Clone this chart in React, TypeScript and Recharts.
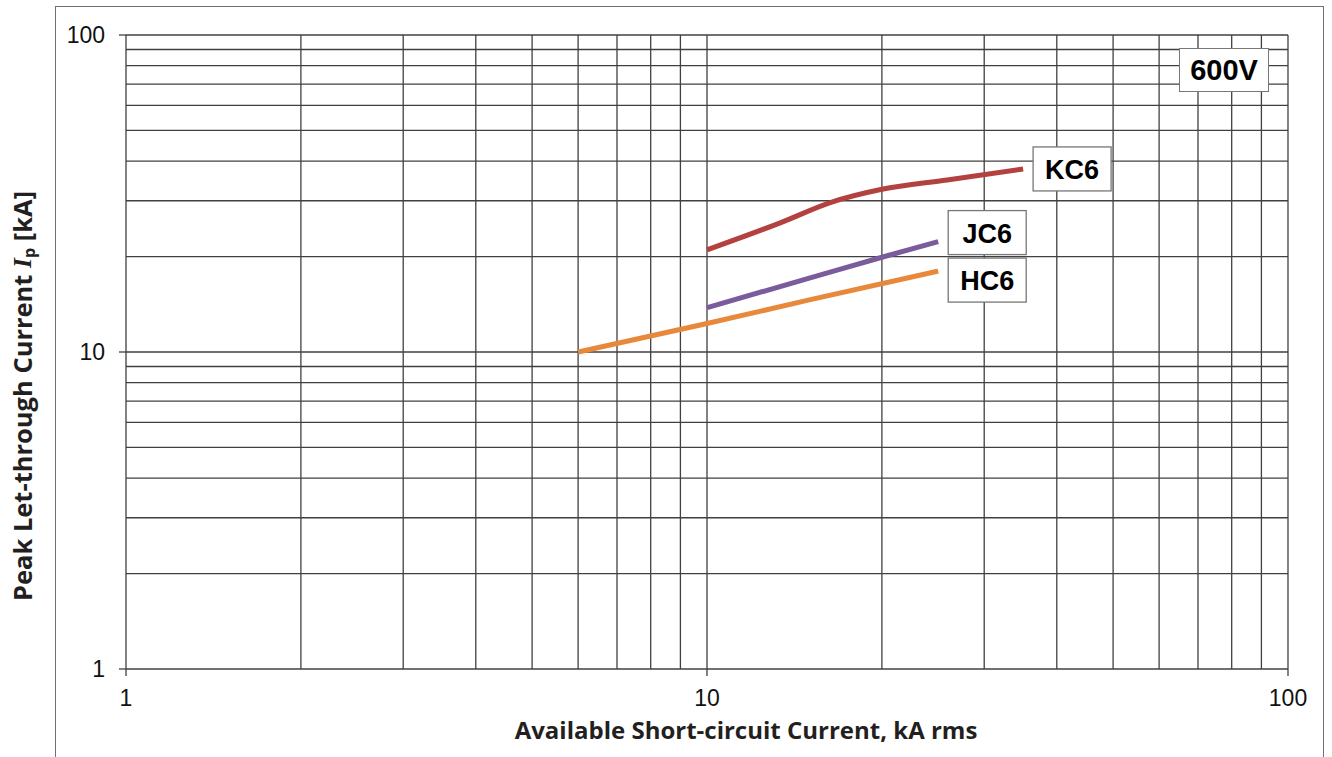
import React from "react";
import { LineChart, Line, XAxis, YAxis, CartesianGrid } from "recharts";

// ---- data ----
const hcX = [6, 10, 15, 25];
const hcY = [10, 12.3, 14.6, 18.0];
const jcX = [10, 15, 20, 25];
const jcY = [13.8, 17.1, 19.9, 22.3];
const kcX = [10, 13.4, 16.3, 20, 25.9, 35];
const kcY = [21.0, 25.6, 29.6, 32.6, 34.9, 37.8];

const seriesNames = ["HC6", "JC6", "KC6"];
const seriesColors = ["#E8883A", "#7A5B9C", "#B3413F"];

const xTicks = [1, 2, 3, 4, 5, 6, 7, 8, 9, 10, 20, 30, 40, 50, 60, 70, 80, 90, 100];
const yTicks = [1, 2, 3, 4, 5, 6, 7, 8, 9, 10, 20, 30, 40, 50, 60, 70, 80, 90, 100];
const majorTicks = [1, 10, 100];

const xTitle = "Available Short-circuit Current, kA rms";
const yTitleA = "Peak Let-through Current ";
const yTitleI = "I";
const yTitleSub = "p";
const yTitleB = " [kA]";
const voltageLabel = "600V";

const toPoints = (xs: number[], ys: number[]) => xs.map((x, i) => ({ x, y: ys[i] }));
const hcData = toPoints(hcX, hcY);
const jcData = toPoints(jcX, jcY);
const kcData = toPoints(kcX, kcY);

const GRID = "#404040";
const TICKFONT = "'Liberation Sans', Arial, sans-serif";
const TITLEFONT = "'Open Sans', sans-serif";

const XTick = (props: any) => {
  const { x, y, payload } = props;
  if (!majorTicks.includes(payload.value)) return <g />;
  return (
    <g>
      <line x1={x} x2={x} y1={y - 7} y2={y} stroke={GRID} strokeWidth={1.3} />
      <text x={x} y={y + 30} textAnchor="middle" fontFamily={TICKFONT} fontSize={23} fill="#111">
        {payload.value}
      </text>
    </g>
  );
};

const YTick = (props: any) => {
  const { x, y, payload } = props;
  if (!majorTicks.includes(payload.value)) return <g />;
  return (
    <g>
      <line x1={x} x2={x + 7} y1={y} y2={y} stroke={GRID} strokeWidth={1.3} />
      <text x={x - 14} y={y + 8} textAnchor="end" fontFamily={TICKFONT} fontSize={23} fill="#111">
        {payload.value}
      </text>
    </g>
  );
};

const makeEndLabel = (name: string, count: number, dy: number) => (props: any) => {
  const { x, y, index } = props;
  if (index !== count - 1) return <g />;
  const w = 78;
  const h = 44;
  const left = x + 10;
  const top = y + dy - h / 2;
  return (
    <g>
      <rect x={left} y={top} width={w} height={h} fill="#fff" stroke="#777" strokeWidth={1.3} />
      <text
        x={left + w / 2}
        y={top + h / 2 + 10}
        textAnchor="middle"
        fontFamily={TICKFONT}
        fontWeight="bold"
        fontSize={27}
        fill="#000"
      >
        {name}
      </text>
    </g>
  );
};

const YTitle = (props: any) => {
  const cx = 22;
  const cy = 396;
  return (
    <text
      x={cx}
      y={cy}
      transform={`rotate(-90 ${cx} ${cy})`}
      textAnchor="middle"
      dominantBaseline="central"
      fontFamily={TITLEFONT}
      fontWeight="bold"
      fontSize={25.5}
      fill="#231f20"
    >
      {yTitleA}
      <tspan fontFamily="'Liberation Serif', serif" fontStyle="italic">{yTitleI}</tspan>
      <tspan fontSize={16} dy={7}>{yTitleSub}</tspan>
      <tspan dy={-7}>{yTitleB}</tspan>
    </text>
  );
};

const XTitle = (props: any) => {
  return (
    <text
      x={746}
      y={739}
      textAnchor="middle"
      fontFamily={TITLEFONT}
      fontWeight="bold"
      fontSize={24}
      fill="#231f20"
    >
      {xTitle}
    </text>
  );
};

export default function App() {
  return (
    <div style={{ position: "absolute", left: 0, top: 0, width: 1332, height: 757, background: "#fff", overflow: "hidden" }}>
      <div
        style={{
          position: "absolute",
          left: 55,
          top: 6,
          width: 1269,
          height: 760,
          borderLeft: "1.5px solid #707070",
          borderTop: "1.5px solid #707070",
          borderRight: "1.5px solid #707070",
          boxSizing: "border-box",
        }}
      />
      <div
        style={{
          position: "absolute",
          left: 1179,
          top: 48,
          width: 90,
          height: 44,
          boxSizing: "border-box",
          border: "1.3px solid #777",
          background: "#fff",
          fontFamily: TICKFONT,
          fontWeight: "bold",
          fontSize: 29,
          lineHeight: "42px",
          textAlign: "center",
          color: "#000",
          zIndex: 2,
        }}
      >
        {voltageLabel}
      </div>
      <div style={{ position: "absolute", left: 0, top: 0 }}>
        <LineChart width={1332} height={757} margin={{ top: 35, right: 44, bottom: 48, left: 56 }}>
          <CartesianGrid stroke={GRID} strokeWidth={1.3} />
          <XAxis
            dataKey="x"
            type="number"
            scale="log"
            domain={[1, 100]}
            ticks={xTicks}
            interval={0}
            allowDataOverflow
            axisLine={false}
            tickLine={false}
            tickSize={7}
            tickMargin={0}
            height={40}
            tick={<XTick />}
            label={{ content: <XTitle /> }}
          />
          <YAxis
            dataKey="y"
            type="number"
            scale="log"
            domain={[1, 100]}
            ticks={yTicks}
            interval={0}
            allowDataOverflow
            axisLine={false}
            tickLine={false}
            tickSize={7}
            tickMargin={0}
            width={70}
            tick={<YTick />}
            label={{ content: <YTitle /> }}
          />
          <Line
            data={hcData}
            dataKey="y"
            name={seriesNames[0]}
            type="monotone"
            stroke={seriesColors[0]}
            strokeWidth={5}
            dot={false}
            isAnimationActive={false}
            label={makeEndLabel(seriesNames[0], hcData.length, 9)}
          />
          <Line
            data={jcData}
            dataKey="y"
            name={seriesNames[1]}
            type="monotone"
            stroke={seriesColors[1]}
            strokeWidth={5}
            dot={false}
            isAnimationActive={false}
            label={makeEndLabel(seriesNames[1], jcData.length, -9)}
          />
          <Line
            data={kcData}
            dataKey="y"
            name={seriesNames[2]}
            type="monotone"
            stroke={seriesColors[2]}
            strokeWidth={5}
            dot={false}
            isAnimationActive={false}
            label={makeEndLabel(seriesNames[2], kcData.length, 0)}
          />
        </LineChart>
      </div>
    </div>
  );
}
